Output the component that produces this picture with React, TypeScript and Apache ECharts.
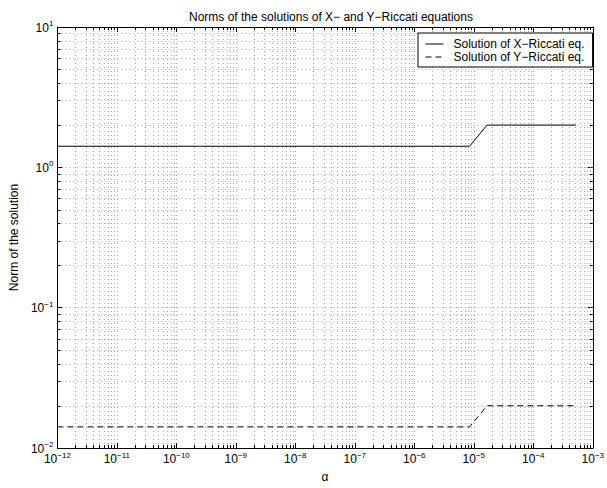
import React, { useEffect, useRef } from 'react';
import * as echarts from 'echarts';

const titleText = 'Norms of the solutions of X\u2212 and Y\u2212Riccati equations';
const xAxisName = '\u03b1';
const yAxisName = 'Norm of the solution';
const seriesNames = ['Solution of X\u2212Riccati eq.', 'Solution of Y\u2212Riccati eq.'];

const alphaValues = [1e-12, 8.5e-6, 1.67e-5, 5.2e-4];
const xRiccatiNorms = [1.414, 1.414, 2.0, 2.0];
const yRiccatiNorms = [0.01414, 0.01414, 0.02, 0.02];

const xExtent = [1e-12, 1e-3];
const yExtent = [1e-2, 1e1];

function minorValues(min: number, max: number): number[] {
  const out: number[] = [];
  const e0 = Math.round(Math.log10(min));
  const e1 = Math.round(Math.log10(max));
  for (let e = e0; e < e1; e++) {
    for (let m = 2; m <= 9; m++) out.push(m * Math.pow(10, e));
  }
  return out;
}

const xMinor = minorValues(xExtent[0], xExtent[1]);
const yMinor = minorValues(yExtent[0], yExtent[1]);

const FONT = '"Liberation Sans", Arial, Helvetica, sans-serif';
const GRID_COLOR = '#a8a8a8';

function expLabel(v: number) {
  const e = Math.round(Math.log10(v));
  const s = String(e).replace('-', '\u2212');
  return `{b|10}{s|${s}}`;
}

const richLabel = {
  b: { fontSize: 12, fontFamily: FONT, color: '#000', lineHeight: 13, verticalAlign: 'bottom' },
  s: { fontSize: 8, fontFamily: FONT, color: '#000', lineHeight: 9, padding: [0, 0, 7, 0] },
};

export default function App() {
  const ref = useRef<HTMLDivElement>(null);
  useEffect(() => {
    document.body.style.margin = '0';
    const chart = echarts.init(ref.current!, null, { renderer: 'svg' });
    const gridStyle = { stroke: GRID_COLOR, lineWidth: 1, lineDash: [1, 3] };
    const tickStyle = { stroke: '#000', lineWidth: 1 };
    const option: any = {
      animation: false,
      backgroundColor: '#fff',
      title: {
        text: titleText,
        left: 326,
        textAlign: 'center',
        top: 6,
        textStyle: { fontSize: 12, fontWeight: 'normal', fontFamily: FONT, color: '#000' },
      },
      legend: {
        left: 418,
        top: 33,
        orient: 'vertical',
        itemWidth: 18,
        itemHeight: 10,
        itemGap: 1,
        padding: [5, 8, 4, 7],
        borderColor: '#000',
        borderWidth: 1,
        backgroundColor: '#fff',
        borderRadius: 0,
        itemStyle: { opacity: 0, borderWidth: 0 },
        lineStyle: { width: 1 },
        textStyle: { fontSize: 12, lineHeight: 10, fontFamily: FONT, color: '#000', padding: [0, 0, 0, 5] },
        data: seriesNames,
      },
      grid: { left: 56, right: 11, top: 27, bottom: 34 },
      xAxis: [
        {
          type: 'log',
          logBase: 10,
          min: xExtent[0],
          max: xExtent[1],
          splitNumber: 9,
          name: xAxisName,
          nameLocation: 'middle',
          nameGap: 23,
          nameTextStyle: { fontSize: 12, fontFamily: FONT, color: '#000' },
          axisLine: { lineStyle: { color: '#000', width: 1 } },
          axisTick: { inside: true, length: 5, lineStyle: { color: '#000' } },
          axisLabel: { formatter: expLabel, rich: richLabel, margin: 4 },
          splitLine: { show: true, lineStyle: { color: GRID_COLOR, type: [1, 3], width: 1 } },
        },
        {
          type: 'log',
          logBase: 10,
          min: xExtent[0],
          max: xExtent[1],
          splitNumber: 9,
          position: 'top',
          axisLine: { lineStyle: { color: '#000', width: 1 } },
          axisTick: { inside: true, length: 5, lineStyle: { color: '#000' } },
          axisLabel: { show: false },
          splitLine: { show: false },
        },
      ],
      yAxis: [
        {
          type: 'log',
          logBase: 10,
          min: yExtent[0],
          max: yExtent[1],
          splitNumber: 3,
          name: yAxisName,
          nameLocation: 'middle',
          nameGap: 32,
          nameTextStyle: { fontSize: 12, fontFamily: FONT, color: '#000' },
          axisLine: { lineStyle: { color: '#000', width: 1 } },
          axisTick: { inside: true, length: 5, lineStyle: { color: '#000' } },
          axisLabel: { formatter: expLabel, rich: richLabel, margin: 4 },
          splitLine: { show: true, lineStyle: { color: GRID_COLOR, type: [1, 3], width: 1 } },
        },
        {
          type: 'log',
          logBase: 10,
          min: yExtent[0],
          max: yExtent[1],
          splitNumber: 3,
          position: 'right',
          axisLine: { lineStyle: { color: '#000', width: 1 } },
          axisTick: { inside: true, length: 5, lineStyle: { color: '#000' } },
          axisLabel: { show: false },
          splitLine: { show: false },
        },
      ],
      series: [
        {
          type: 'custom',
          silent: true,
          z: 1,
          data: [[1e-6, 0.1]],
          renderItem: (params: any, api: any) => {
            const cs = params.coordSys;
            const x0 = cs.x, x1 = cs.x + cs.width, y0 = cs.y, y1 = cs.y + cs.height;
            const children: any[] = [];
            for (const v of xMinor) {
              const px = Math.round(api.coord([v, yExtent[0]])[0]) + 0.5;
              children.push({ type: 'line', shape: { x1: px, y1: y0, x2: px, y2: y1 }, style: gridStyle });
              children.push({ type: 'line', shape: { x1: px, y1: y1, x2: px, y2: y1 - 3 }, style: tickStyle });
              children.push({ type: 'line', shape: { x1: px, y1: y0, x2: px, y2: y0 + 3 }, style: tickStyle });
            }
            for (const v of yMinor) {
              const py = Math.round(api.coord([xExtent[0], v])[1]) + 0.5;
              children.push({ type: 'line', shape: { x1: x0, y1: py, x2: x1, y2: py }, style: gridStyle });
              children.push({ type: 'line', shape: { x1: x0, y1: py, x2: x0 + 3, y2: py }, style: tickStyle });
              children.push({ type: 'line', shape: { x1: x1, y1: py, x2: x1 - 3, y2: py }, style: tickStyle });
            }
            return { type: 'group', children };
          },
        },
        {
          name: seriesNames[0],
          type: 'line',
          z: 3,
          symbol: 'none',
          data: alphaValues.map((a, i) => [a, xRiccatiNorms[i]]),
          lineStyle: { color: '#000', width: 1, type: 'solid' },
          itemStyle: { color: '#000' },
        },
        {
          name: seriesNames[1],
          type: 'line',
          z: 3,
          symbol: 'none',
          data: alphaValues.map((a, i) => [a, yRiccatiNorms[i]]),
          lineStyle: { color: '#000', width: 1, type: [6, 4] },
          itemStyle: { color: '#000' },
        },
      ],
    };
    chart.setOption(option);
    return () => chart.dispose();
  }, []);
  return <div ref={ref} style={{ width: 607, height: 488 }} />;
}
